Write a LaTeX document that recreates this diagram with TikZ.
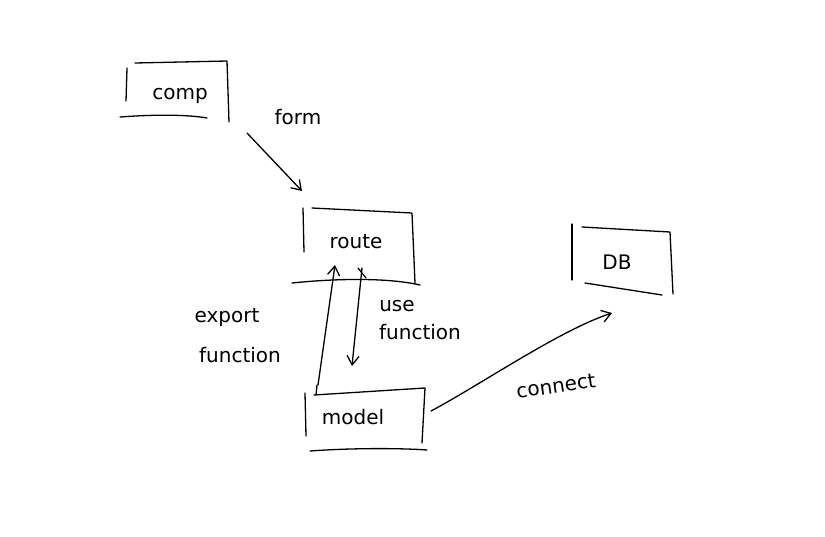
\documentclass[tikz,border=0pt]{standalone}
\usepackage{fontspec}
\setmainfont{DejaVu Sans}
\usetikzlibrary{arrows.meta}
\begin{document}
\begin{tikzpicture}[x=1pt,y=-1pt,
  ink/.style={line width=1.3pt,line cap=round,line join=round,black},
  lbl/.style={font=\fontsize{20}{22}\selectfont,inner sep=0pt},
  conn/.style={ink,-{Straight Barb[length=9pt,width=12pt]}}]
\useasboundingbox (0,0) rectangle (825,536);
% comp box
\draw[ink] (127,68) -- (126,101);
\draw[ink] (135,63) -- (227,61) -- (229,122);
\draw[ink] (120,117) .. controls (160,114) and (190,115) .. (207,118);
\node[lbl] (comp) at (180,96) {comp};
% route box
\draw[ink] (303,208) -- (304,252);
\draw[ink] (312,208) -- (412,213) -- (415,283);
\draw[ink] (292,283) .. controls (340,278) and (390,278) .. (420,285);
\node[lbl] (route) at (356,242) {route};
% model box
\draw[ink] (305,393) -- (306,436);
\draw[ink] (314,395) -- (425,388) -- (422,443);
\draw[ink] (310,451) .. controls (350,448) and (400,448) .. (427,450);
\draw[ink] (317,385) -- (316,395);
\node[lbl] (model) at (353,417) {model};
% DB box
\draw[ink] (572,224) -- (572,280);
\draw[ink] (582,227) -- (670,232) -- (673,294);
\draw[ink] (585,283) -- (662,295);
\node[lbl] (db) at (617,262) {DB};
% connectors
\coordinate (c1) at (247,133);
\coordinate (c2) at (302,191);
\draw[conn] (c1) -- (c2);
\node[lbl] (form) at (298,117) {form};
\coordinate (u1) at (318,385);
\coordinate (u2) at (335,265);
\draw[conn] (u1) -- (u2);
\coordinate (d1) at (362,268);
\coordinate (d2) at (352,366);
\draw[conn] (d1) -- (d2);
\draw[ink] (358,268) -- (366,278);
\node[lbl] (use) at (397,306) {use};
\node[lbl] (usefn) at (420,332) {function};
\node[lbl] (exp) at (227,318) {export};
\node[lbl] (expfn) at (240,355) {function};
\coordinate (m1) at (431,411);
\coordinate (m2) at (612,313);
\draw[conn] (m1) .. controls (480,385) and (560,330) .. (m2);
\node[lbl,rotate=8] (connect) at (556,386) {connect};
\end{tikzpicture}
\end{document}
